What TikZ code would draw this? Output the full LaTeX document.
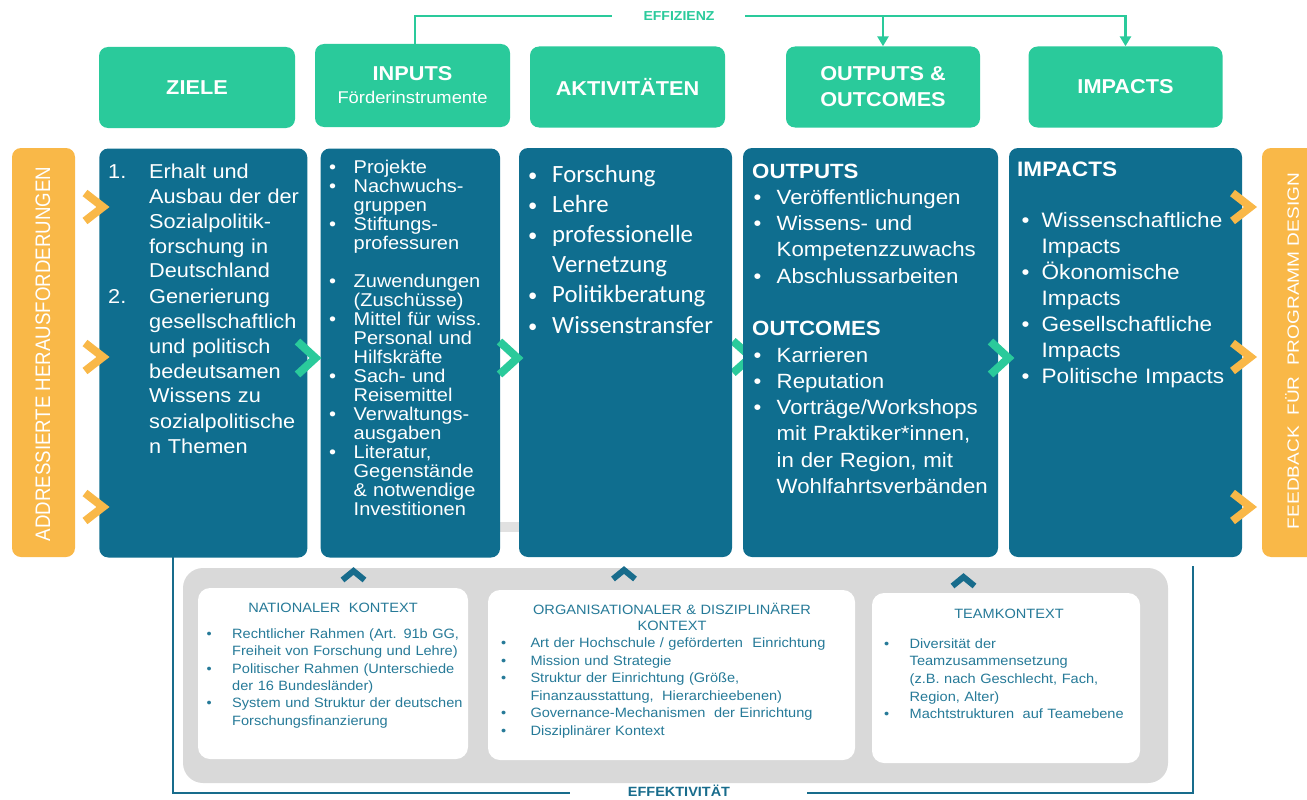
\documentclass[tikz,border=0pt]{standalone}
\usepackage{fontspec}
\setmainfont{Liberation Sans}[FakeStretch=1.08]
\newfontfamily\plainfont{Liberation Sans}
\newfontfamily\calfont{Carlito}
\usepackage{graphicx}
\usetikzlibrary{arrows.meta}

\definecolor{zgreen}{RGB}{42,202,155}
\definecolor{zblue}{RGB}{15,110,143}
\definecolor{zorange}{RGB}{249,184,72}
\definecolor{zgray}{RGB}{217,217,217}
\definecolor{zline}{RGB}{24,108,140}
\definecolor{ztext}{RGB}{38,122,152}

\newlength{\bulw}
\newlength{\bulx}
\newcommand{\zbul}{\makebox[\bulw][l]{\hspace*{\bulx}\textbullet}}
\newcommand{\zsbul}{\makebox[\bulw][l]{\hspace*{\bulx}\raisebox{1pt}{\scalebox{0.75}{\textbullet}}}}
\newcommand{\zind}{\hspace*{\bulw}}

\tikzset{
  headbox/.style={fill=zgreen, text=white, rounded corners=9pt, inner sep=0pt, align=center,
    minimum width=195pt, minimum height=81pt, font=\bfseries\fontsize{20.1}{26}\selectfont},
  colbox/.style={fill=zblue, rounded corners=9pt, inner sep=0pt, minimum height=409pt},
  sidebar/.style={fill=zorange, rounded corners=9pt, inner sep=0pt, minimum height=409pt},
  sidelabel/.style={rotate=90, text=white, inner sep=0pt, font=\plainfont},
  coltext/.style={anchor=base west, inner sep=0pt, text=white, text width=270pt, align=left},
  ctxpanel/.style={fill=zgray, rounded corners=20pt, inner sep=0pt},
  ctxbox/.style={fill=white, rounded corners=12pt, inner sep=0pt},
  ctxhead/.style={anchor=base, inner sep=0pt, text=ztext, text width=340pt, align=center,
    font=\fontsize{13.5}{16}\selectfont},
  ctxtext/.style={anchor=base west, inner sep=0pt, text=ztext, text width=340pt, align=left},
  chev/.style={line width=8pt, line join=miter},
  upchev/.style={draw=zline, line width=6pt, line join=miter},
  effline/.style={draw=zgreen, line width=2.5pt},
  loopline/.style={draw=zline, line width=2.5pt},
  efftip/.style={-{Triangle[width=11pt,length=10pt]}}
}

\begin{document}
\begin{tikzpicture}[x=1pt, y=-1pt]
\useasboundingbox (0,0) rectangle (1307,800);
\clip (0,0) rectangle (1307,800);

% pieces lying behind the columns
\fill[zgray!80] (495,522) rectangle (522,532);
\draw[chev, draw=zgreen] (733,341) -- (751,357) -- (733,373);

% side bars
\node[sidebar, minimum width=63pt] (lbar) at (43.5,352.5) {};
\node[sidebar, minimum width=68pt] (rbar) at (1296,352.5) {};
\node[sidelabel] (lbl) at (43,354) {\scalebox{0.89}[1]{\fontsize{21}{21}\selectfont ADDRESSIERTE HERAUSFORDERUNGEN}};
\node[sidelabel] (rbl) at (1292,351) {\scalebox{1.17}[1]{\fontsize{16.3}{16}\selectfont FEEDBACK\ \ FÜR\ \ PROGRAMM DESIGN}};

% columns
\node[colbox, minimum width=208pt] (cziele) at (203.3,353) {};
\node[colbox, minimum width=179.3pt] (cinputs) at (410.35,353) {};
\node[colbox, minimum width=213pt] (cakt) at (625.5,352.5) {};
\node[colbox, minimum width=255pt] (coutputs) at (870.5,352.5) {};
\node[colbox, minimum width=233pt] (cimpacts) at (1125.5,352.5) {};

% headers
\node[headbox, minimum width=196pt] (hziele) at (197,87.5) {ZIELE};
\node[headbox, minimum height=83pt, font=\bfseries\fontsize{20.1}{23}\selectfont] (hinputs) at (412.5,85.5)
  {INPUTS\\{\mdseries\fontsize{17}{20}\selectfont Förderinstrumente}};
\node[headbox] (hakt) at (627.5,87) {AKTIVITÄTEN};
\node[headbox, minimum width=194pt] (houtputs) at (883,87) {OUTPUTS \&\\OUTCOMES};
\node[headbox, minimum width=194pt] (himpacts) at (1125.5,87) {IMPACTS};

% column texts
\node[coltext, font={\fontsize{20.1}{25}\selectfont}] (tziele) at (108,178) {%
\makebox[41pt][l]{1.}Erhalt und\\
\hspace*{41pt}Ausbau der der\\
\hspace*{41pt}Sozialpolitik-\\
\hspace*{41pt}forschung in\\
\hspace*{41pt}Deutschland\\
\makebox[41pt][l]{2.}Generierung\\
\hspace*{41pt}gesellschaftlich\\
\hspace*{41pt}und politisch\\
\hspace*{41pt}bedeutsamen\\
\hspace*{41pt}Wissens zu\\
\hspace*{41pt}sozialpolitische\\
\hspace*{41pt}n Themen};

\node[coltext, font={\fontsize{18.5}{19.05}\selectfont\setlength{\bulw}{24.5pt}}] (tinputs) at (329,173) {%
\zbul Projekte\\
\zbul Nachwuchs-\\
\zind gruppen\\
\zbul Stiftungs-\\
\zind professuren\\[19pt]
\zbul Zuwendungen\\
\zind (Zuschüsse)\\
\zbul Mittel für wiss.\\
\zind Personal und\\
\zind Hilfskräfte\\
\zbul Sach- und\\
\zind Reisemittel\\
\zbul Verwaltungs-\\
\zind ausgaben\\
\zbul Literatur,\\
\zind Gegenstände\\
\zind \& notwendige\\
\zind Investitionen};

\node[coltext, font={\calfont\fontsize{24.8}{30.2}\selectfont\setlength{\bulw}{26pt}\setlength{\bulx}{2pt}}] (takt) at (526,182) {%
\zsbul Forschung\\
\zsbul Lehre\\
\zsbul professionelle\\
\zind Vernetzung\\
\zsbul Politikberatung\\
\zsbul Wissenstransfer};

\node[coltext, font={\fontsize{20.6}{26.3}\selectfont\setlength{\bulw}{24.5pt}\setlength{\bulx}{1.5pt}}] (toutputs) at (752,178) {%
\textbf{OUTPUTS}\\
\zbul Veröffentlichungen\\
\zbul Wissens- und\\
\zind Kompetenzzuwachs\\
\zbul Abschlussarbeiten\\[26.3pt]
\textbf{OUTCOMES}\\
\zbul Karrieren\\
\zbul Reputation\\
\zbul Vorträge/Workshops\\
\zind mit Praktiker*innen,\\
\zind in der Region, mit\\
\zind Wohlfahrtsverbänden};

\node[coltext, font={\fontsize{20.9}{26}\selectfont\setlength{\bulw}{24.5pt}\setlength{\bulx}{4.5pt}}] (timpacts) at (1017,176) {%
\textbf{IMPACTS}\\[25pt]
\zbul Wissenschaftliche\\
\zind Impacts\\
\zbul Ökonomische\\
\zind Impacts\\
\zbul Gesellschaftliche\\
\zind Impacts\\
\zbul Politische Impacts};

% chevrons
\foreach \yy in {207,357,507} {
  \draw[chev, draw=zorange] (85,\yy-14) -- (103,\yy) -- (85,\yy+14);
  \draw[chev, draw=zorange] (1232.5,\yy-14) -- (1250.5,\yy) -- (1232.5,\yy+14);
}
\foreach \xx in {297.5,499.5,990.5}
  \draw[chev, draw=zgreen] (\xx,341.5) -- (\xx+18,358) -- (\xx,374.5);

% context panel
\node[ctxpanel, minimum width=985pt, minimum height=215pt] (panel) at (675.5,675.5) {};
\node[ctxbox, minimum width=270pt, minimum height=171pt] (bnat) at (333,673.5) {};
\node[ctxbox, minimum width=367pt, minimum height=170pt] (borg) at (671.5,675) {};
\node[ctxbox, minimum width=268pt, minimum height=170pt] (bteam) at (1006,678) {};

\foreach \xx/\yy in {353.5/571,624/570,963.5/577}
  \draw[upchev] (\xx-11,\yy+9) -- (\xx,\yy) -- (\xx+11,\yy+9);

\node[ctxhead] (hnat) at (333,612) {NATIONALER\hspace{4pt} KONTEXT};
\node[ctxhead] (horg) at (672,614) {ORGANISATIONALER \& DISZIPLINÄRER\\KONTEXT};
\node[ctxhead] (hteam) at (1009,618) {TEAMKONTEXT};

\node[ctxtext, font={\fontsize{13.5}{17.4}\selectfont\setlength{\bulw}{25.5pt}}] (tnat) at (206.5,638.3) {%
\zbul Rechtlicher Rahmen (Art. 91b GG,\\
\zind Freiheit von Forschung und Lehre)\\
\zbul Politischer Rahmen (Unterschiede\\
\zind der 16 Bundesländer)\\
\zbul System und Struktur der deutschen\\
\zind Forschungsfinanzierung};

\node[ctxtext, font={\fontsize{13.5}{17.5}\selectfont\setlength{\bulw}{29.5pt}}] (torg) at (500.8,647.5) {%
\zbul Art der Hochschule / geförderten\hspace{5pt} Einrichtung\\
\zbul Mission und Strategie\\
\zbul Struktur der Einrichtung (Größe,\\
\zind Finanzausstattung,\hspace{4pt} Hierarchieebenen)\\
\zbul Governance-Mechanismen\hspace{4pt} der Einrichtung\\
\zbul Disziplinärer Kontext};

\node[ctxtext, font={\fontsize{13.5}{17.6}\selectfont\setlength{\bulw}{25.5pt}}] (tteam) at (884,648.3) {%
\zbul Diversität der\\
\zind Teamzusammensetzung\\
\zind (z.B. nach Geschlecht, Fach,\\
\zind Region, Alter)\\
\zbul Machtstrukturen\hspace{4pt} auf Teamebene};

% efficiency
\coordinate (effL) at (612,16);
\coordinate (effR) at (745,16);
\node[anchor=base, inner sep=0pt, text=zgreen, font=\bfseries\fontsize{13}{13}\selectfont] (effz) at (679,20.5) {EFFIZIENZ};
\draw[effline] ([xshift=2.5pt]hinputs.north) |- (effL);
\draw[effline, efftip] (effR) -| (houtputs.north);
\draw[effline, efftip] (effR) -| (himpacts.north);

% effectiveness
\coordinate (lpTL) at (173,557);
\coordinate (lpBL) at (570,793);
\coordinate (lpBR) at (807,793);
\coordinate (lpTR) at (1193,566);
\node[anchor=base, inner sep=0pt, text=zline, font=\bfseries\fontsize{13.4}{13}\selectfont] (effk) at (679,796) {EFFEKTIVITÄT};
\draw[loopline] (lpTL) |- (lpBL);
\draw[loopline] (lpBR) -| (lpTR);

\end{tikzpicture}
\end{document}
